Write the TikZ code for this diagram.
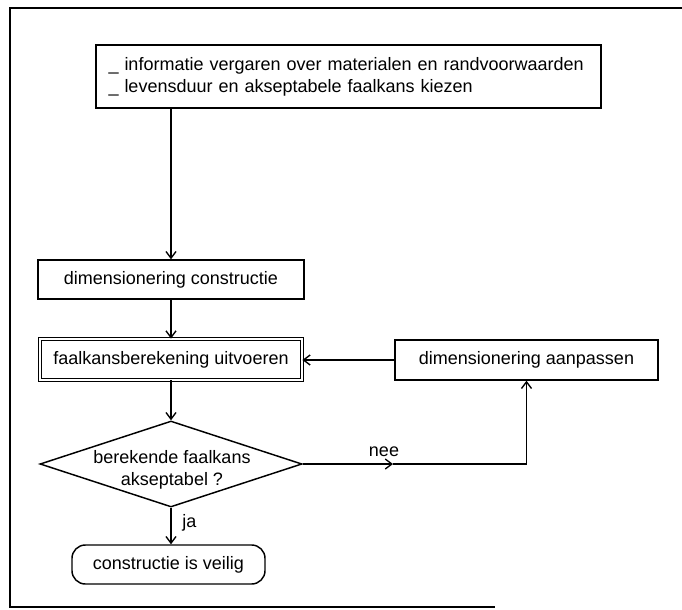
\documentclass[tikz,border=0pt]{standalone}
\usepackage{fontspec}
\setmainfont{Liberation Sans}
\usetikzlibrary{arrows.meta,shapes.geometric}
\begin{document}
\begin{tikzpicture}[x=0.75pt,y=-0.75pt,
  every node/.style={font=\fontsize{13.5}{16.5}\selectfont, inner sep=0pt},
  box/.style={draw, line width=1.1pt, rectangle},
  conn/.style={line width=1pt, -{Straight Barb[length=5pt,width=7.5pt,line width=1pt]}}]
\useasboundingbox (0,0) rectangle (682,610);
% frame
\draw[line width=1.6pt] (682,8) -- (10,8) -- (10,607) -- (495,607);
% nodes
\node[box, minimum width=378.75pt, minimum height=47.25pt, align=left, text width=360pt] (info) at (348.5,76.5)
  {\_ informatie vergaren over materialen en randvoorwaarden\\\_ levensduur en akseptabele faalkans kiezen};
\node[box, minimum width=199.5pt, minimum height=29.25pt] (dimc) at (171,279.5) {dimensionering constructie};
\node[draw, double, double distance=1.6pt, line width=0.8pt, minimum width=196.3pt, minimum height=30.5pt] (calc) at (171,359.5) {faalkansberekening uitvoeren};
\node[box, minimum width=197.25pt, minimum height=30pt] (adj) at (526.5,360) {dimensionering aanpassen};
\node[draw, diamond, line width=1.1pt, minimum width=196.5pt, minimum height=64.5pt] (dec) at (171,464) {};
\node[align=center] (dectext) at (172,470) {berekende faalkans\\akseptabel ?};
\node[draw, rounded corners=10pt, line width=1.1pt, minimum width=144.75pt, minimum height=29.25pt] (safe) at (168.5,564.5) {constructie is veilig};
\node[anchor=west] (ja) at (182,523) {ja};
\node (nee) at (384,452) {nee};
\coordinate (neemid) at (393,464);
% connectors
\draw[conn] (dimc.north |- info.south) -- (dimc.north);
\draw[conn] (dimc.south) -- (calc.north);
\draw[conn] (calc.south) -- (dec.north);
\draw[conn] (adj.west) -- (adj.west -| calc.east);
\draw[conn] (dec.east) -- (neemid);
\draw[conn] (neemid) -- (adj.south |- dec.east) -- (adj.south);
\draw[conn] (dec.south) -- (dec.south |- safe.north);
\end{tikzpicture}
\end{document}
